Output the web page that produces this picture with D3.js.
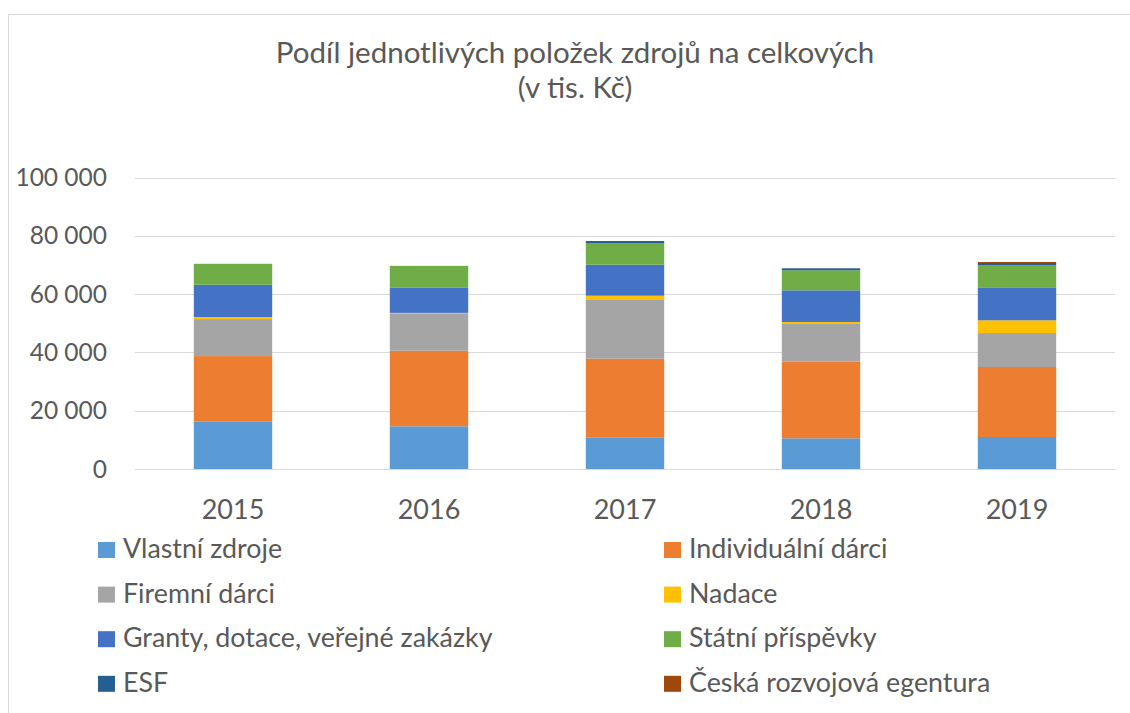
<!DOCTYPE html>
<html>
<head>
<meta charset="utf-8">
<script src="https://cdn.jsdelivr.net/npm/d3@7"></script>
<style>
  body { margin: 0; background: #fff; }
  text { font-family: Lato, "Open Sans", sans-serif; fill: #595959; }
</style>
</head>
<body>
<svg id="chart" width="1130" height="713"></svg>
<script>
// data (tis. Kč)
const years = ["2015", "2016", "2017", "2018", "2019"];
const seriesNames = [
  "Vlastní zdroje", "Individuální dárci", "Firemní dárci", "Nadace",
  "Granty, dotace, veřejné zakázky", "Státní příspěvky", "ESF", "Česká rozvojová egentura"
];
const vlastniZdroje = [16200, 14650, 10870, 10530, 10980];
const individualniDarci = [22540, 25930, 26960, 26280, 24010];
const firemniDarci = [12690, 12830, 20380, 13170, 11660];
const nadace = [690, 150, 1240, 450, 4360];
const granty = [11080, 8580, 10630, 10870, 11320];
const statniPrispevky = [7200, 7550, 7440, 6860, 7650];
const esf = [0, 0, 690, 690, 690];
const ceskaRozvojova = [0, 0, 0, 0, 340];
const yTicks = [0, 20000, 40000, 60000, 80000, 100000];

const colors = ["#5b9bd5", "#ed7d31", "#a5a5a5", "#ffc000", "#4472c4", "#70ad47", "#255e91", "#9e480e"];
const allSeries = [vlastniZdroje, individualniDarci, firemniDarci, nadace, granty, statniPrispevky, esf, ceskaRozvojova];

const rows = years.map((y, i) => {
  const r = { year: y };
  seriesNames.forEach((n, k) => { r[n] = allSeries[k][i]; });
  return r;
});

const svg = d3.select("#chart");

// chart frame
svg.append("path")
  .attr("d", "M8.5,713 V14.5 H1130")
  .attr("fill", "none")
  .attr("stroke", "#d9d9d9")
  .attr("stroke-width", 1);

// title
const title = svg.append("text")
  .attr("text-anchor", "middle")
  .style("font-size", "29.5px");
title.append("tspan").attr("x", 575).attr("y", 63).text("Podíl jednotlivých položek zdrojů na celkových");
title.append("tspan").attr("x", 575).attr("y", 98).text("(v tis. Kč)");

const x = d3.scaleBand().domain(years).range([135, 1115]).paddingInner(0.6).paddingOuter(0.3);
const y = d3.scaleLinear().domain([0, 100000]).range([469, 177.5]);

// gridlines
svg.append("g")
  .selectAll("line")
  .data(yTicks)
  .join("line")
  .attr("x1", 135).attr("x2", 1115)
  .attr("y1", d => Math.round(y(d)) + 0.5)
  .attr("y2", d => Math.round(y(d)) + 0.5)
  .attr("stroke", "#d9d9d9")
  .attr("stroke-width", 1);

// y axis labels
const fmt = d => d3.format(",")(d).replace(/,/g, " ");
svg.append("g")
  .selectAll("text")
  .data(yTicks)
  .join("text")
  .attr("x", 107)
  .attr("y", d => y(d) + 8.5)
  .attr("text-anchor", "end")
  .style("font-size", "24.5px")
  .text(fmt);

// stacked bars
const stack = d3.stack().keys(seriesNames);
const layers = stack(rows);
svg.append("g")
  .selectAll("g")
  .data(layers)
  .join("g")
  .attr("fill", (d, i) => colors[i])
  .selectAll("rect")
  .data(d => d)
  .join("rect")
  .attr("x", d => x(d.data.year))
  .attr("width", x.bandwidth())
  .attr("y", d => y(d[1]))
  .attr("height", d => y(d[0]) - y(d[1]));

// x axis labels
svg.append("g")
  .selectAll("text")
  .data(years)
  .join("text")
  .attr("x", d => x(d) + x.bandwidth() / 2)
  .attr("y", 519)
  .attr("text-anchor", "middle")
  .style("font-size", "27px")
  .text(d => d);

// legend, two columns
const legend = svg.append("g")
  .selectAll("g")
  .data(seriesNames)
  .join("g")
  .attr("transform", (d, i) => `translate(${i % 2 === 0 ? 98 : 664},${558 + Math.floor(i / 2) * 44.6})`);
legend.append("rect")
  .attr("x", 0).attr("y", -16)
  .attr("width", 17).attr("height", 16)
  .attr("fill", (d, i) => colors[i]);
legend.append("text")
  .attr("x", 25).attr("y", 0)
  .style("font-size", "26.8px")
  .text(d => d);
</script>
</body>
</html>
